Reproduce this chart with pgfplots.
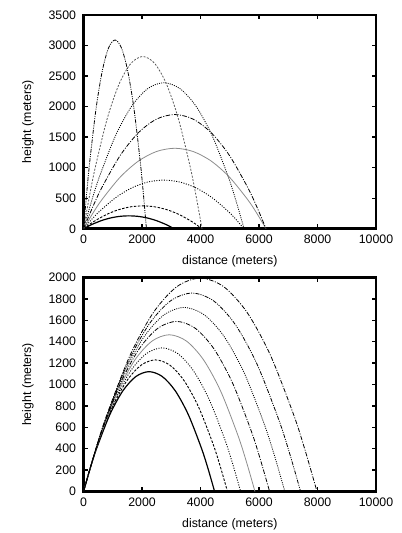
\documentclass[border=0pt]{standalone}
\usepackage{fontspec}
\setmainfont{Liberation Sans}
\usepackage{pgfplots}
\pgfplotsset{compat=1.18}

\pgfplotsset{
  traj/.style={
    scale only axis, width=294pt, height=215pt,
    xmin=0, xmax=10000, xtick={0,2000,...,10000},
    scaled ticks=false,
    /pgf/number format/1000 sep={},
    /pgf/number format/assume math mode=true,
    axis line style={line width=2.8pt},
    tick style={line width=1.5pt, black},
    major tick length=4.5pt,
    tick align=inside,
    xlabel={distance (meters)}, ylabel={height (meters)},
    every axis y label/.style={at={(axis description cs:-0.19,0.5)}, rotate=90, anchor=center},
    every axis x label/.style={at={(axis description cs:0.5,-0.152)}, anchor=center},
    xticklabel style={yshift=-3pt},
    yticklabel style={xshift=-4pt},
  },
  s1/.style={black, line width=1.2pt, smooth},
  s2/.style={black, line width=0.9pt, dash pattern=on 2.5pt off 1.5pt, smooth},
  s3/.style={black, line width=0.9pt, dash pattern=on 1pt off 1.5pt, smooth},
  s4/.style={black!45, line width=0.8pt, smooth},
  s5/.style={black, line width=0.8pt, dash pattern=on 4.5pt off 1.5pt on 1pt off 1.5pt, smooth},
  s6/.style={black, line width=0.8pt, dash pattern=on 1pt off 1.2pt, smooth},
  s7/.style={black!65, line width=0.8pt, dash pattern=on 2pt off 1.5pt, smooth},
  s8/.style={black, line width=0.8pt, dash pattern=on 4pt off 1.2pt on 1pt off 1.2pt on 1pt off 1.2pt, smooth},
}

\begin{document}
\begin{tikzpicture}[x=1pt, y=1pt, font=\fontsize{12.4}{14}\selectfont]
\path (0,0) rectangle (404,533);

% launch angle varies, speed fixed
\begin{axis}[traj, at={(84pt,303pt)}, anchor=south west,
  ymin=0, ymax=3500, ytick={0,500,...,3500}]
\addplot[s1] coordinates {(0,0) (155,40.3) (310,76.3) (620,135.7) (930,178.1) (1240,203.5) (1550,212) (1860,203.5) (2170,178.1) (2480,135.7) (2790,76.3) (2945,40.3) (3100,0)};
\addplot[s2] coordinates {(0,0) (202.5,71.3) (405,135) (810,240) (1215,315) (1620,360) (2025,375) (2430,360) (2835,315) (3240,240) (3645,135) (3847.5,71.3) (4050,0)};
\addplot[s3] coordinates {(0,0) (274.5,151.4) (549,286.9) (1098,510.1) (1647,669.5) (2196,765.1) (2745,797) (3294,765.1) (3843,669.5) (4392,510.1) (4941,286.9) (5215.5,151.4) (5490,0)};
\addplot[s4] coordinates {(0,0) (312,250.4) (624,474.5) (1248,843.5) (1872,1107.1) (2496,1265.3) (3120,1318) (3744,1265.3) (4368,1107.1) (4992,843.5) (5616,474.5) (5928,250.4) (6240,0)};
\addplot[s5] coordinates {(0,0) (312,355.3) (624,673.2) (1248,1196.8) (1872,1570.8) (2496,1795.2) (3120,1870) (3744,1795.2) (4368,1570.8) (4992,1196.8) (5616,673.2) (5928,355.3) (6240,0)};
\addplot[s6] coordinates {(0,0) (274.5,454.1) (549,860.4) (1098,1529.6) (1647,2007.6) (2196,2294.4) (2745,2390) (3294,2294.4) (3843,2007.6) (4392,1529.6) (4941,860.4) (5215.5,454.1) (5490,0)};
\addplot[s7] coordinates {(0,0) (202.5,535.8) (405,1015.2) (810,1804.8) (1215,2368.8) (1620,2707.2) (2025,2820) (2430,2707.2) (2835,2368.8) (3240,1804.8) (3645,1015.2) (3847.5,535.8) (4050,0)};
\addplot[s8] coordinates {(0,0) (107.5,587.1) (215,1112.4) (430,1977.6) (645,2595.6) (860,2966.4) (1075,3090) (1290,2966.4) (1505,2595.6) (1720,1977.6) (1935,1112.4) (2042.5,587.1) (2150,0)};
\end{axis}

% launch speed varies, angle fixed at 45 degrees
\begin{axis}[traj, at={(84pt,39pt)}, anchor=south west,
  ymin=0, ymax=2000, ytick={0,200,...,2000}]
\addplot[s1] coordinates {(0,0) (224,212.8) (448,403.2) (896,716.8) (1344,940.8) (1792,1075.2) (2240,1120) (2688,1075.2) (3136,940.8) (3584,716.8) (4032,403.2) (4256,212.8) (4480,0)};
\addplot[s2] coordinates {(0,0) (246,233.7) (492,442.8) (984,787.2) (1476,1033.2) (1968,1180.8) (2460,1230) (2952,1180.8) (3444,1033.2) (3936,787.2) (4428,442.8) (4674,233.7) (4920,0)};
\addplot[s3] coordinates {(0,0) (268.5,255.1) (537,483.3) (1074,859.2) (1611,1127.7) (2148,1288.8) (2685,1342.5) (3222,1288.8) (3759,1127.7) (4296,859.2) (4833,483.3) (5101.5,255.1) (5370,0)};
\addplot[s4] coordinates {(0,0) (293,278.4) (586,527.4) (1172,937.6) (1758,1230.6) (2344,1406.4) (2930,1465) (3516,1406.4) (4102,1230.6) (4688,937.6) (5274,527.4) (5567,278.4) (5860,0)};
\addplot[s5] coordinates {(0,0) (318,302.1) (636,572.4) (1272,1017.6) (1908,1335.6) (2544,1526.4) (3180,1590) (3816,1526.4) (4452,1335.6) (5088,1017.6) (5724,572.4) (6042,302.1) (6360,0)};
\addplot[s6] coordinates {(0,0) (344,326.8) (688,619.2) (1376,1100.8) (2064,1444.8) (2752,1651.2) (3440,1720) (4128,1651.2) (4816,1444.8) (5504,1100.8) (6192,619.2) (6536,326.8) (6880,0)};
\addplot[s8] coordinates {(0,0) (371,352.5) (742,667.8) (1484,1187.2) (2226,1558.2) (2968,1780.8) (3710,1855) (4452,1780.8) (5194,1558.2) (5936,1187.2) (6678,667.8) (7049,352.5) (7420,0)};
\addplot[s5] coordinates {(0,0) (399,379.1) (798,718.2) (1596,1276.8) (2394,1675.8) (3192,1915.2) (3990,1995) (4788,1915.2) (5586,1675.8) (6384,1276.8) (7182,718.2) (7581,379.1) (7980,0)};
\end{axis}
\end{tikzpicture}
\end{document}
